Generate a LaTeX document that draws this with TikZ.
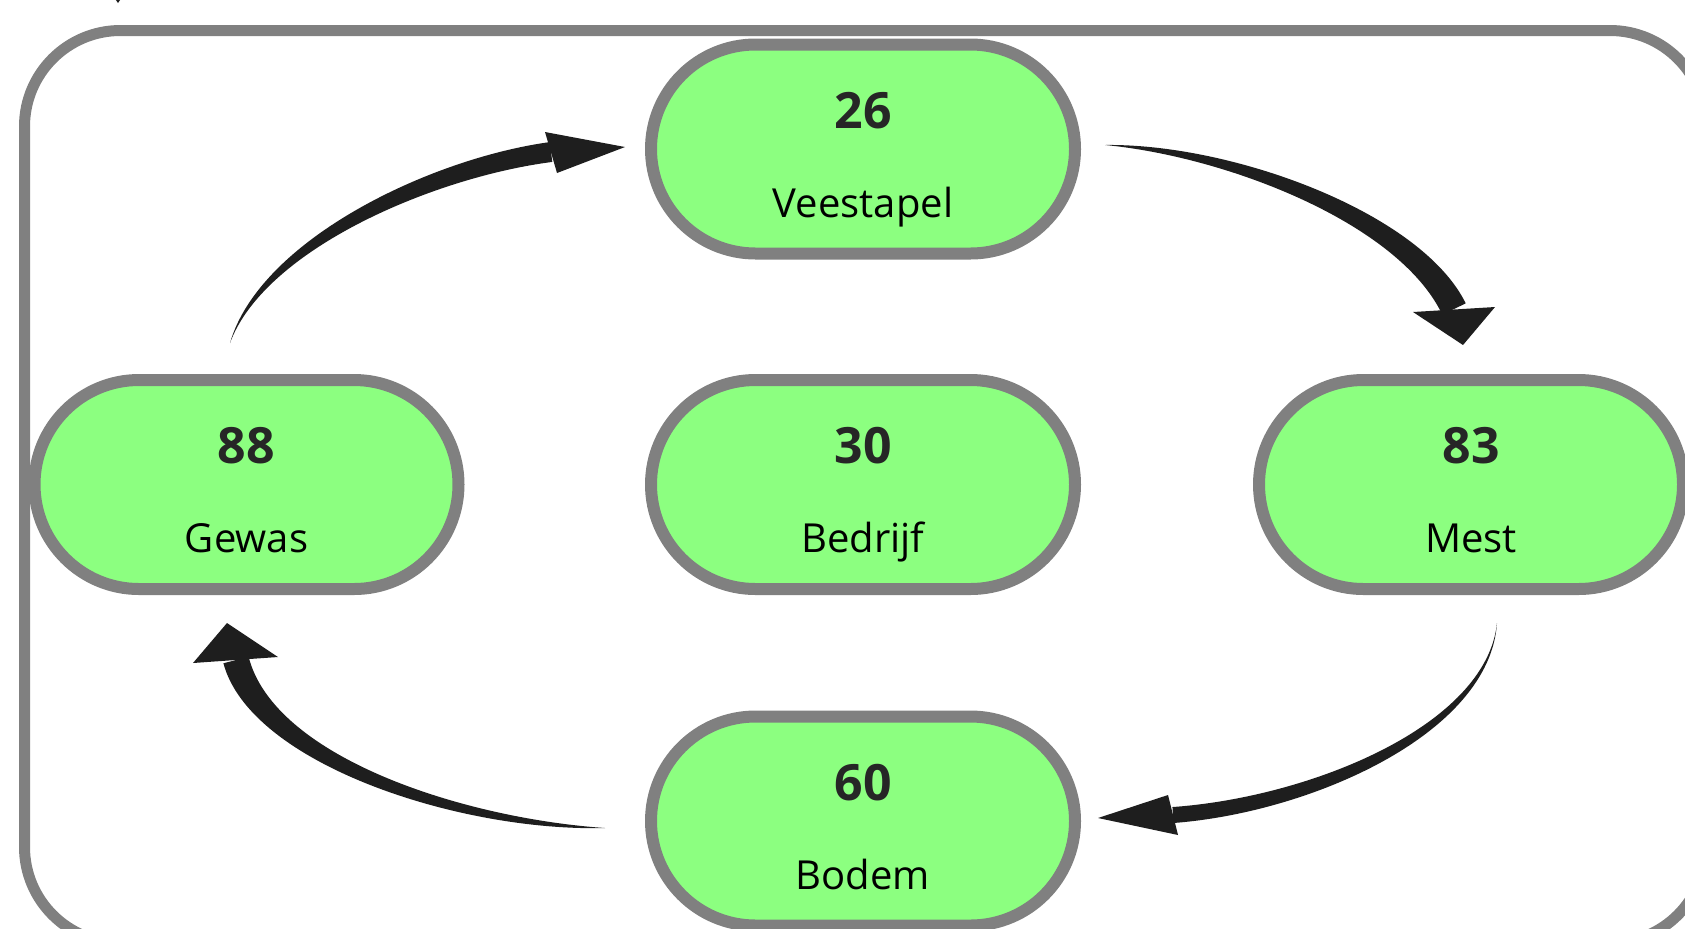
\documentclass[tikz,border=0pt]{standalone}
\usepackage{fontspec}
\setmainfont{Open Sans}
\usetikzlibrary{positioning,calc,shapes.misc}

\definecolor{boxgreen}{HTML}{8CFF80}
\definecolor{rimgrey}{HTML}{808080}
\definecolor{numgrey}{HTML}{262626}
\definecolor{flowblack}{HTML}{1E1E1E}

\tikzset{
  pool/.style={on grid, rounded rectangle, draw=rimgrey, line width=6pt, fill=boxgreen,
    minimum width=212pt, minimum height=104.5pt, inner sep=0pt},
  amount/.style={anchor=base, font=\fontsize{25}{30}\selectfont\bfseries, text=numgrey},
  partname/.style={anchor=base, font=\fontsize{20}{24}\selectfont, text=black},
  flowfill/.style={fill=flowblack},
  outerframe/.style={draw=rimgrey, line width=5.5pt, rounded corners=48pt},
}

% tapered flow arrow: coordinates #1-s, #1-a, #1-b, #1-e (body), #1-l, #1-t, #1-r (head)
\newcommand{\taper}[2]{%
  \fill[flowfill] (#1-s)
    .. controls ($(#1-a)!{#2*0.55}!90:(#1-b)$) and ($(#1-b)!{#2*0.95}!90:(#1-e)$) .. ($(#1-e)!{#2}!-90:(#1-b)$)
    -- ($(#1-e)!{#2}!90:(#1-b)$)
    .. controls ($(#1-b)!{#2*0.95}!-90:(#1-e)$) and ($(#1-a)!{#2*0.55}!-90:(#1-b)$) .. (#1-s) -- cycle;
  \fill[flowfill] (#1-l) -- (#1-t) -- (#1-r) -- cycle;}

\begin{document}
\begin{tikzpicture}[x=0.5pt, y=-0.5pt]
  \useasboundingbox (0,0) rectangle (1685,928);
  \clip (0,0) rectangle (1685,928);

  \draw[outerframe] (24.5,30.5) rectangle (1706,943);
  \fill[flowfill] (108,-12) -- (128,-12) -- (118,3) -- cycle;

  % the five pools
  \node[pool] (bedrijf) at (863,484.5) {};
  \node[pool, above=167.75pt of bedrijf] (veestapel) {};
  \node[pool, below=168.25pt of bedrijf] (bodem) {};
  \node[pool, left=308.25pt of bedrijf] (gewas) {};
  \node[pool, right=304pt of bedrijf] (mest) {};

  \node[amount] at ($(veestapel)+(0,-21)$) {26};
  \node[partname] at ($(veestapel)+(0,68)$) {Veestapel};
  \node[amount] at ($(gewas)+(0,-21)$) {88};
  \node[partname] at ($(gewas)+(0,68)$) {Gewas};
  \node[amount] at ($(bedrijf)+(0,-21)$) {30};
  \node[partname] at ($(bedrijf)+(0,68)$) {Bedrijf};
  \node[amount] at ($(mest)+(0,-21)$) {83};
  \node[partname] at ($(mest)+(0,68)$) {Mest};
  \node[amount] at ($(bodem)+(0,-21)$) {60};
  \node[partname] at ($(bodem)+(0,68)$) {Bodem};

  % gewas -> veestapel
  \coordinate (gv-s) at (230,343);
  \coordinate (gv-a) at (262,245);
  \coordinate (gv-b) at (431,168);
  \coordinate (gv-e) at (551,152);
  \coordinate (gv-l) at (545,132);
  \coordinate (gv-t) at (625,147);
  \coordinate (gv-r) at (557,173);
  \taper{gv}{5pt}

  % veestapel -> mest
  \coordinate (vm-s) at (1105,145);
  \coordinate (vm-a) at (1230,150);
  \coordinate (vm-b) at (1410,218);
  \coordinate (vm-e) at (1454,309);
  \coordinate (vm-l) at (1413,312);
  \coordinate (vm-t) at (1463,345);
  \coordinate (vm-r) at (1495,307);
  \taper{vm}{6.5pt}

  % mest -> bodem
  \coordinate (mb-s) at (1497,623);
  \coordinate (mb-a) at (1488,730);
  \coordinate (mb-b) at (1310,805);
  \coordinate (mb-e) at (1173,815);
  \coordinate (mb-l) at (1168,795);
  \coordinate (mb-t) at (1098,818);
  \coordinate (mb-r) at (1178,835);
  \taper{mb}{4pt}

  % bodem -> gewas
  \coordinate (bg-s) at (605,828);
  \coordinate (bg-a) at (460,825);
  \coordinate (bg-b) at (262,760);
  \coordinate (bg-e) at (236,660);
  \coordinate (bg-l) at (193,663);
  \coordinate (bg-t) at (227,623);
  \coordinate (bg-r) at (278,657);
  \taper{bg}{6.5pt}
\end{tikzpicture}
\end{document}
